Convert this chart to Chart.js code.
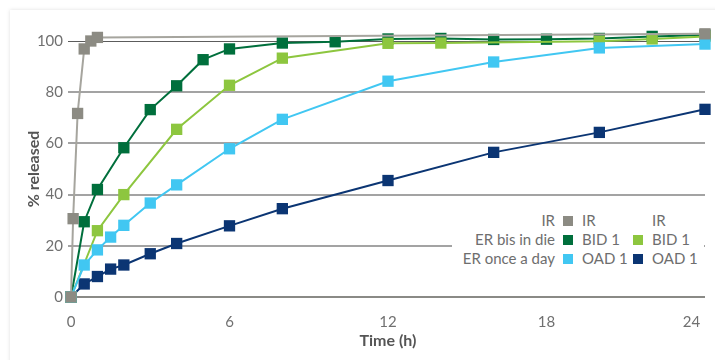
<!DOCTYPE html>
<html lang="en">
<head>
    <meta charset="UTF-8">
    <title>% released over time</title>
    <script src="https://cdn.jsdelivr.net/npm/chart.js@4.4.0/dist/chart.umd.min.js"></script>
    <style>
        body {
            margin: 0;
            background: #fff;
            font-family: Lato, sans-serif;
        }

        .wrap {
            position: relative;
            width: 715px;
            height: 360px;
            overflow: hidden;
        }

        /* faint card edge top/left */
        .card {
            position: absolute;
            left: 10px;
            top: 10px;
            width: 730px;
            height: 380px;
            background: #fff;
            box-shadow: 0 0 4px rgba(0, 0, 0, 0.13);
        }

        canvas {
            position: absolute;
            left: 0;
            top: 0;
        }

        /* legend block sits over the 20% gridline */
        .legend {
            position: absolute;
            left: 452px;
            top: 210px;
            width: 252px;
            height: 60px;
            background: #fff;
            color: #6e6e6e;
            font-size: 15px;
        }

        .legend span {
            position: absolute;
            line-height: 19px;
            white-space: nowrap;
        }

        .legend .row-label {
            right: 149px;
            text-align: right;
        }

        .legend i {
            position: absolute;
            width: 10px;
            height: 10px;
        }
    </style>
</head>
<body>
<div class="wrap">
    <div class="card"></div>
    <canvas id="chart" width="715" height="360"></canvas>
    <div class="legend" id="legend"></div>
</div>

<script>
    // sampling times (h) and % released
    const irTime = [0, 0.08, 0.25, 0.5, 0.75, 1, 24];
    const irReleased = [0, 30.6, 71.7, 96.9, 100, 101.4, 102.8];

    const bidATime = [0, 0.5, 1, 2, 3, 4, 5, 6, 8, 10, 12, 14, 16, 18, 20, 22, 24];
    const bidAReleased = [0, 29.4, 42, 58.3, 73.2, 82.5, 92.7, 96.9, 99.2, 99.7, 100.8, 101, 100.6, 100.7, 101, 101.8, 102.3];

    const bidBTime = [0, 1, 2, 4, 6, 8, 12, 14, 20, 22, 24];
    const bidBReleased = [0, 25.9, 40, 65.5, 82.7, 93.3, 99.1, 99.2, 99.9, 100.8, 101.8];

    const oadTime = [0, 0.5, 1, 1.5, 2, 3, 4, 6, 8, 12, 16, 20, 24];
    const oadAReleased = [0, 12.5, 18.4, 23.4, 28, 36.7, 43.8, 57.9, 69.4, 84.3, 91.8, 97.3, 98.8];
    const oadBReleased = [0, 5.1, 8, 10.9, 12.5, 16.9, 20.9, 27.8, 34.5, 45.5, 56.5, 64.3, 73.3];

    const xTicks = [0, 6, 12, 18, 24];
    const yTicks = [0, 20, 40, 60, 80, 100];

    const legendRows = ['IR', 'ER bis in die', 'ER once a day'];
    const legendLeft = ['IR', 'BID 1', 'OAD 1'];
    const legendRight = ['IR', 'BID 1', 'OAD 1'];

    const colors = {
        ir: '#8c8b83',
        irLine: '#a6a59e',
        bidA: '#006f3c',
        bidB: '#8dc63f',
        oadA: '#41c7f2',
        oadB: '#0b3573'
    };
    const leftSwatch = [colors.ir, colors.bidA, colors.oadA];
    const rightSwatch = [null, colors.bidB, colors.oadB];

    function points(times, values) {
        return times.map((t, i) => ({ x: t, y: values[i] }));
    }

    function series(label, times, values, color, lineColor, order) {
        return {
            label: label,
            data: points(times, values),
            borderColor: lineColor || color,
            backgroundColor: color,
            borderWidth: 2,
            pointStyle: 'rect',
            pointRadius: 8,
            pointBorderWidth: 0,
            pointBackgroundColor: color,
            tension: 0,
            clip: false,
            order: order
        };
    }

    const tickFont = { family: 'Lato', size: 15 };
    const titleFont = { family: 'Lato', size: 16, weight: 'bold' };

    new Chart(document.getElementById('chart'), {
        type: 'line',
        data: {
            datasets: [
                series('IR', irTime, irReleased, colors.ir, colors.irLine, 0),
                series('OAD 1', oadTime, oadAReleased, colors.oadA, null, 1),
                series('BID 1', bidBTime, bidBReleased, colors.bidB, null, 2),
                series('BID 1', bidATime, bidAReleased, colors.bidA, null, 3),
                series('OAD 1', oadTime, oadBReleased, colors.oadB, null, 4)
            ]
        },
        options: {
            responsive: false,
            animation: false,
            layout: { padding: { top: 41, right: 10, left: 0, bottom: 0 } },
            plugins: {
                legend: { display: false },
                tooltip: { enabled: false }
            },
            scales: {
                x: {
                    type: 'linear',
                    min: 0,
                    max: 24,
                    afterBuildTicks: s => { s.ticks = xTicks.map(v => ({ value: v })); },
                    afterFit: s => {
                        s.height = 63;
                        s.paddingLeft = 0;
                        s.paddingRight = 0;
                    },
                    ticks: {
                        font: tickFont,
                        color: '#707070',
                        padding: 8,
                        // last label sits inside the plot edge in the original
                        callback: v => v === 24 ? '24       ' : String(v)
                    },
                    grid: { display: false },
                    border: { display: false },
                    title: {
                        display: true,
                        text: 'Time (h)',
                        font: titleFont,
                        color: '#555',
                        padding: { top: 0, bottom: 10 }
                    }
                },
                y: {
                    min: 0,
                    max: 100,
                    afterBuildTicks: s => { s.ticks = yTicks.map(v => ({ value: v })); },
                    afterFit: s => { s.width = 71; },
                    ticks: {
                        font: tickFont,
                        color: '#707070',
                        padding: 5
                    },
                    grid: {
                        tickLength: 3,
                        color: ctx => ctx.tick.value === 100 ? '#5c5c5c' : (ctx.tick.value === 0 ? '#8a8a86' : '#a3a3a3'),
                        lineWidth: ctx => ctx.tick.value === 100 ? 1 : 2
                    },
                    border: { display: false },
                    title: {
                        display: true,
                        text: '% released',
                        font: titleFont,
                        color: '#555',
                        padding: { top: 24, bottom: 0 }
                    }
                }
            }
        }
    });

    // three-column legend drawn as html over the plot
    const legend = document.getElementById('legend');
    legendRows.forEach((row, i) => {
        const top = 1 + i * 19;
        let html = `<span class="row-label" style="top:${top}px">${row}</span>`;
        html += `<i style="left:111px;top:${top + 5}px;background:${leftSwatch[i]}"></i>`;
        html += `<span style="left:130px;top:${top}px">${legendLeft[i]}</span>`;
        if (rightSwatch[i]) {
            html += `<i style="left:181px;top:${top + 5}px;background:${rightSwatch[i]}"></i>`;
        }
        html += `<span style="left:200px;top:${top}px">${legendRight[i]}</span>`;
        legend.insertAdjacentHTML('beforeend', html);
    });
</script>
</body>
</html>
